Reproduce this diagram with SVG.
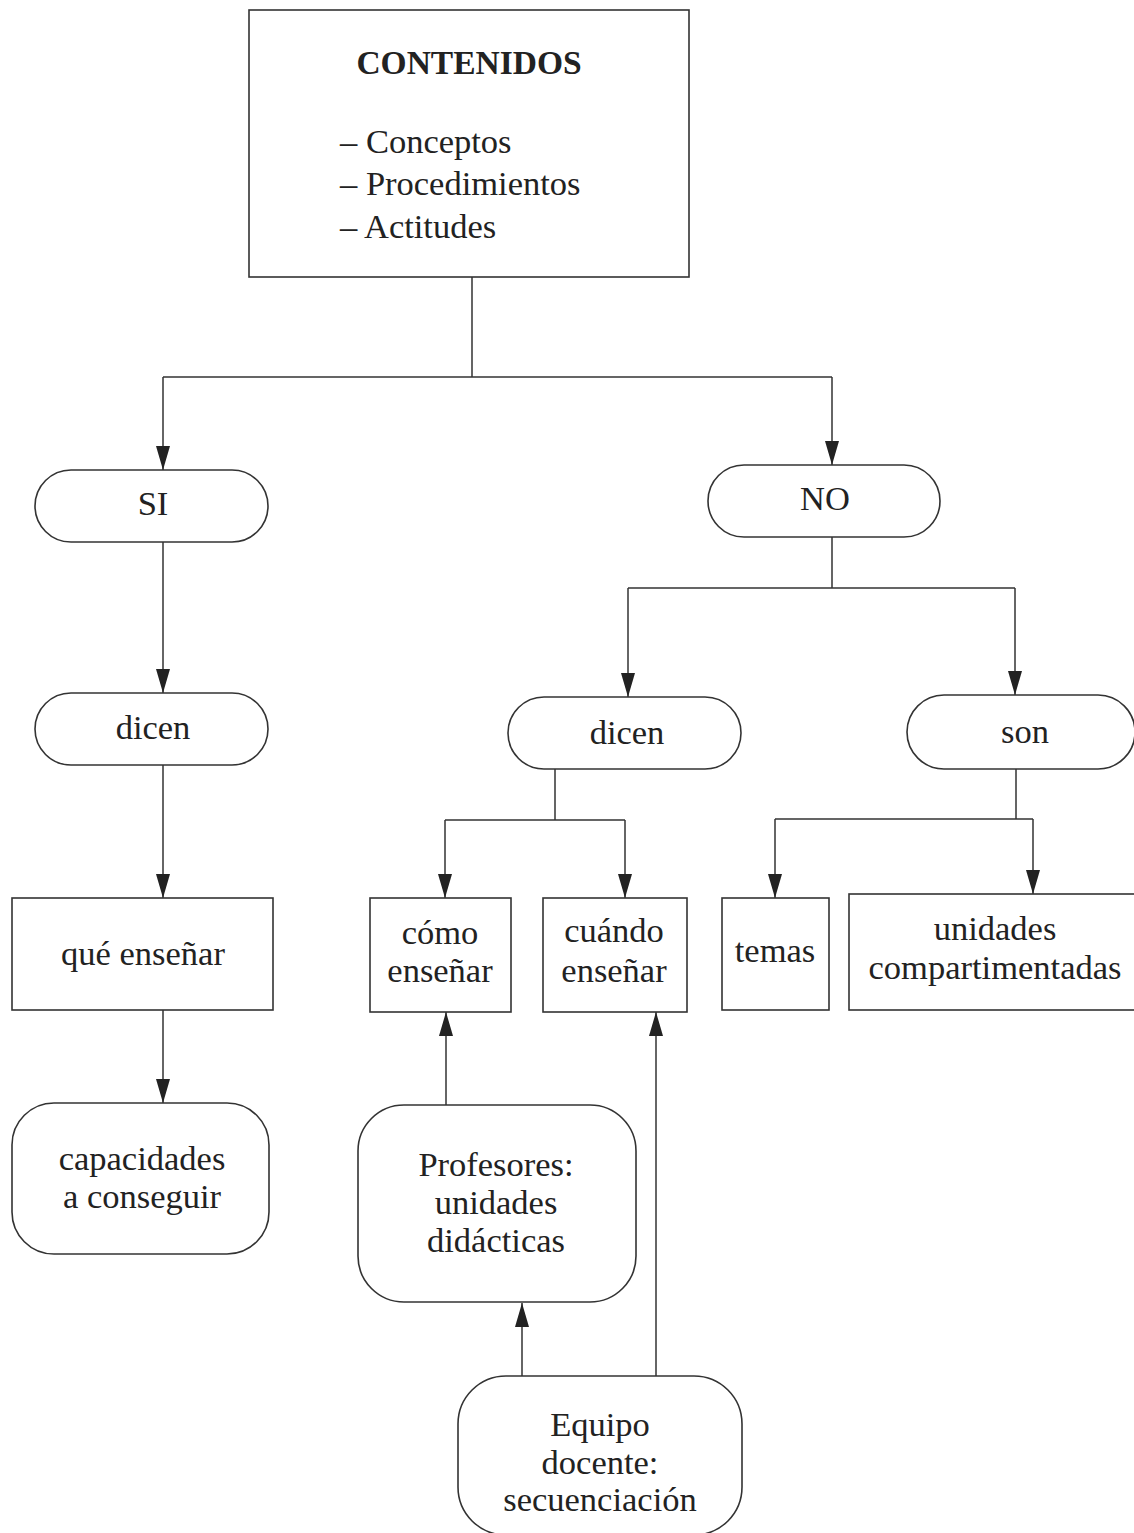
<svg xmlns="http://www.w3.org/2000/svg" width="1134" height="1533" viewBox="0 0 1134 1533">
<defs>
<style>
.n{fill:none;stroke:#333;stroke-width:1.6}
.c{fill:none;stroke:#333;stroke-width:1.5}
.t{font-family:"Liberation Serif","Times New Roman",serif;font-size:34.5px;fill:#222;text-anchor:middle}
.l{text-anchor:start}
.b{font-weight:bold;font-size:33.5px}
</style>
<marker id="ah" viewBox="0 0 24 14" refX="24" refY="7" markerWidth="24" markerHeight="14" markerUnits="userSpaceOnUse" orient="auto">
<path d="M0,0 L24,7 L0,14 Z" fill="#222"/>
</marker>
</defs>
<rect width="1134" height="1533" fill="#fff"/>
<g id="connectors">
<path class="c" d="M472,277 V377 M163,377 H832"/>
<path class="c" d="M163,377 V470" marker-end="url(#ah)"/>
<path class="c" d="M832,377 V465" marker-end="url(#ah)"/>
<path class="c" d="M163,542 V693" marker-end="url(#ah)"/>
<path class="c" d="M163,765 V898" marker-end="url(#ah)"/>
<path class="c" d="M163,1010 V1103" marker-end="url(#ah)"/>
<path class="c" d="M832,537 V588 M628,588 H1015"/>
<path class="c" d="M628,588 V697" marker-end="url(#ah)"/>
<path class="c" d="M1015,588 V695" marker-end="url(#ah)"/>
<path class="c" d="M555,769 V820 M445,820 H625"/>
<path class="c" d="M445,820 V898" marker-end="url(#ah)"/>
<path class="c" d="M625,820 V898" marker-end="url(#ah)"/>
<path class="c" d="M1016,769 V819 M775,819 H1033"/>
<path class="c" d="M775,819 V898" marker-end="url(#ah)"/>
<path class="c" d="M1033,819 V894" marker-end="url(#ah)"/>
<path class="c" d="M446,1105 V1012" marker-end="url(#ah)"/>
<path class="c" d="M656,1376 V1012" marker-end="url(#ah)"/>
<path class="c" d="M522,1376 V1303" marker-end="url(#ah)"/>
</g>
<g id="contenidos">
<rect class="n" x="249" y="10" width="440" height="267"/>
<text class="t b" x="469" y="74">CONTENIDOS</text>
<text class="t l" x="340" y="153">– Conceptos</text>
<text class="t l" x="340" y="195">– Procedimientos</text>
<text class="t l" x="340" y="238">– Actitudes</text>
</g>
<g id="si">
<rect class="n" x="35" y="470" width="233" height="72" rx="36"/>
<text class="t" x="153" y="515">SI</text>
</g>
<g id="no">
<rect class="n" x="708" y="465" width="232" height="72" rx="36"/>
<text class="t" x="825" y="510">NO</text>
</g>
<g id="dicen-si">
<rect class="n" x="35" y="693" width="233" height="72" rx="36"/>
<text class="t" x="153" y="739">dicen</text>
</g>
<g id="que-ensenar">
<rect class="n" x="12" y="898" width="261" height="112"/>
<text class="t" x="143" y="965">qué enseñar</text>
</g>
<g id="capacidades">
<rect class="n" x="12" y="1103" width="257" height="151" rx="42"/>
<text class="t" x="142" y="1170">capacidades</text>
<text class="t" x="142" y="1208">a conseguir</text>
</g>
<g id="dicen-no">
<rect class="n" x="508" y="697" width="233" height="72" rx="36"/>
<text class="t" x="627" y="744">dicen</text>
</g>
<g id="son">
<rect class="n" x="907" y="695" width="228" height="74" rx="37"/>
<text class="t" x="1025" y="743">son</text>
</g>
<g id="como-ensenar">
<rect class="n" x="370" y="898" width="141" height="114"/>
<text class="t" x="440" y="944">cómo</text>
<text class="t" x="440" y="982">enseñar</text>
</g>
<g id="cuando-ensenar">
<rect class="n" x="543" y="898" width="144" height="114"/>
<text class="t" x="614" y="942">cuándo</text>
<text class="t" x="614" y="982">enseñar</text>
</g>
<g id="temas">
<rect class="n" x="722" y="898" width="107" height="112"/>
<text class="t" x="775" y="962">temas</text>
</g>
<g id="unidades-compartimentadas">
<rect class="n" x="849" y="894" width="290" height="116"/>
<text class="t" x="995" y="940">unidades</text>
<text class="t" x="995" y="979">compartimentadas</text>
</g>
<g id="profesores">
<rect class="n" x="358" y="1105" width="278" height="197" rx="46"/>
<text class="t" x="496" y="1176">Profesores:</text>
<text class="t" x="496" y="1214">unidades</text>
<text class="t" x="496" y="1252">didácticas</text>
</g>
<g id="equipo-docente">
<rect class="n" x="458" y="1376" width="284" height="159" rx="48"/>
<text class="t" x="600" y="1436">Equipo</text>
<text class="t" x="600" y="1474">docente:</text>
<text class="t" x="600" y="1511">secuenciación</text>
</g>
</svg>
